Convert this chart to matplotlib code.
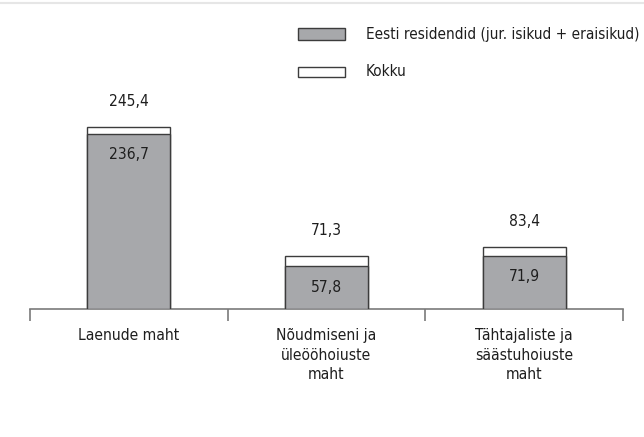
import matplotlib
matplotlib.use("Agg")
import matplotlib.pyplot as plt
from matplotlib.patches import Rectangle
from matplotlib.lines import Line2D

categories = ["Laenude maht", "Nõudmiseni ja\nüleööhoiuste\nmaht", "Tähtajaliste ja\nsäästuhoiuste\nmaht"]
residents = [236.7, 57.8, 71.9]
total = [245.4, 71.3, 83.4]
resident_labels = ["236,7", "57,8", "71,9"]
total_labels = ["245,4", "71,3", "83,4"]
legend_labels = ["Eesti residendid (jur. isikud + eraisikud)", "Kokku"]

plt.rcParams['font.family'] = ['DejaVu Sans']
plt.rcParams['font.stretch'] = 'condensed'

FS = 11.2
W, H = 644, 437
fig = plt.figure(figsize=(W / 100, H / 100), dpi=100)

ax_left, ax_right = 30, 623
ax_bottom_px, ax_top_px = 309, 10
ax = fig.add_axes([ax_left / W, 1 - ax_bottom_px / H, (ax_right - ax_left) / W, (ax_bottom_px - ax_top_px) / H])
ppu = 0.74
ax.set_ylim(0, (ax_bottom_px - ax_top_px) / ppu)
ax.set_xlim(-0.5, len(categories) - 0.5)

gray = "#a7a8ab"
edge = "#3c3c3c"
x = list(range(len(categories)))
bw = 0.42
ax.bar(x, total, width=bw, color="white", edgecolor=edge, linewidth=1.0, zorder=2)
ax.bar(x, residents, width=bw, color=gray, edgecolor=edge, linewidth=1.0, zorder=3)

for i in x:
    ax.annotate(total_labels[i], (i, total[i]), xytext=(0, 18.5), textcoords="offset points",
                ha="center", va="center", fontsize=FS, color="#1e1e1e", fontstretch='condensed')
    ax.annotate(resident_labels[i], (i, residents[i]), xytext=(0, -15), textcoords="offset points",
                ha="center", va="center", fontsize=FS, color="#1e1e1e", zorder=5, fontstretch='condensed')

for s in ["top", "left", "right"]:
    ax.spines[s].set_visible(False)
ax.spines["bottom"].set_color("#7a7a7a")
ax.spines["bottom"].set_linewidth(1.2)
ax.set_yticks([])
ax.set_xticks(x)
ax.set_xticklabels(categories, fontsize=FS, color="#1e1e1e", linespacing=1.4, va="top", fontstretch='condensed')
ax.tick_params(axis="x", which="major", length=0, pad=13.5)
ax.set_xticks([-0.5, 0.5, 1.5, 2.5], minor=True)
ax.tick_params(axis="x", which="minor", length=8.5, width=1.2, color="#7a7a7a", direction="out")

# legend
fig.patches.append(Rectangle((298 / W, 1 - 40 / H), 47 / W, 12 / H, transform=fig.transFigure,
                             facecolor=gray, edgecolor=edge, linewidth=1.0))
fig.patches.append(Rectangle((298 / W, 1 - 77 / H), 47 / W, 10 / H, transform=fig.transFigure,
                             facecolor="white", edgecolor=edge, linewidth=1.0))
fig.text(366 / W, 1 - 34 / H, legend_labels[0], fontsize=11.0, va="center", ha="left", color="#1e1e1e", fontstretch='condensed')
fig.text(366 / W, 1 - 71 / H, legend_labels[1], fontsize=11.0, va="center", ha="left", color="#1e1e1e", fontstretch='condensed')

fig.lines.append(Line2D([0, 1], [1 - 3 / H, 1 - 3 / H], transform=fig.transFigure, color="#e6e6e6", linewidth=1.5))

fig.savefig("out.png", dpi=100)
